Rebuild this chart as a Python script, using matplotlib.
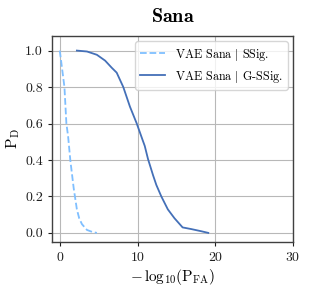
import matplotlib
matplotlib.use("Agg")
import matplotlib.pyplot as plt

plt.rcParams['font.family'] = 'serif'
plt.rcParams['font.serif'] = ['cmr10']
plt.rcParams['mathtext.fontset'] = 'cm'
plt.rcParams['axes.formatter.use_mathtext'] = True

ssig_x = [0.0, 0.3, 0.6, 0.85, 1.07, 1.36, 1.79, 2.2, 2.5, 2.85, 3.5, 4.2, 4.77]
ssig_y = [1.0, 0.9, 0.8, 0.6, 0.53, 0.397, 0.245, 0.129, 0.08, 0.048, 0.016, 0.005, 0.0]

gssig_x = [2.2, 3.5, 4.77, 5.83, 6.68, 7.32, 8.17, 9.02, 9.9, 10.7, 10.93, 11.35,
           12.0, 12.42, 13.06, 13.9, 14.76, 15.8, 16.9, 18.2, 19.1]
gssig_y = [1.0, 0.995, 0.977, 0.945, 0.906, 0.879, 0.8, 0.693, 0.6, 0.504, 0.477,
           0.405, 0.316, 0.263, 0.2, 0.129, 0.08, 0.03, 0.021, 0.009, 0.0]

labels = [r'VAE Sana $|$ SSig.', r'VAE Sana $|$ G-SSig.']

fig = plt.figure(figsize=(3.09, 2.90), dpi=100)
ax = fig.add_axes([52/309, 1-242/290, 241/309, 206/290])
ax.plot(ssig_x, ssig_y, color='#7fbfff', ls='--', lw=1.3, label=labels[0])
ax.plot(gssig_x, gssig_y, color='#4470b8', ls='-', lw=1.3, label=labels[1])
ax.set_xlim(-1, 30)
ax.set_ylim(-0.05, 1.08)
ax.set_xticks([0, 10, 20, 30])
ax.set_yticks([0.0, 0.2, 0.4, 0.6, 0.8, 1.0])
ax.set_yticklabels(['0.0', '0.2', '0.4', '0.6', '0.8', '1.0'])
ax.grid(True, color='#b8b8b8', lw=0.8)
ax.set_axisbelow(True)
for s in ax.spines.values():
    s.set_color('#404040')
    s.set_linewidth(1.0)
ax.tick_params(direction='out', length=3, width=0.8, colors='#202020', labelsize=10)
ax.set_xlabel(r'$-\,\mathrm{log}_{10}(\mathrm{P_{FA}})$', fontsize=11, labelpad=2)
ax.set_ylabel(r'$\mathrm{P_D}$', fontsize=11, labelpad=2)
ax.set_title(r'$\mathbf{Sana}$', fontsize=14.5, pad=10)
ax.legend(loc='upper right', fontsize=8.7, framealpha=0.8, edgecolor='#cccccc',
          borderpad=0.42, handlelength=2.05, handletextpad=0.8, labelspacing=0.5,
          borderaxespad=0.45)
fig.savefig('out.png', dpi=100)
